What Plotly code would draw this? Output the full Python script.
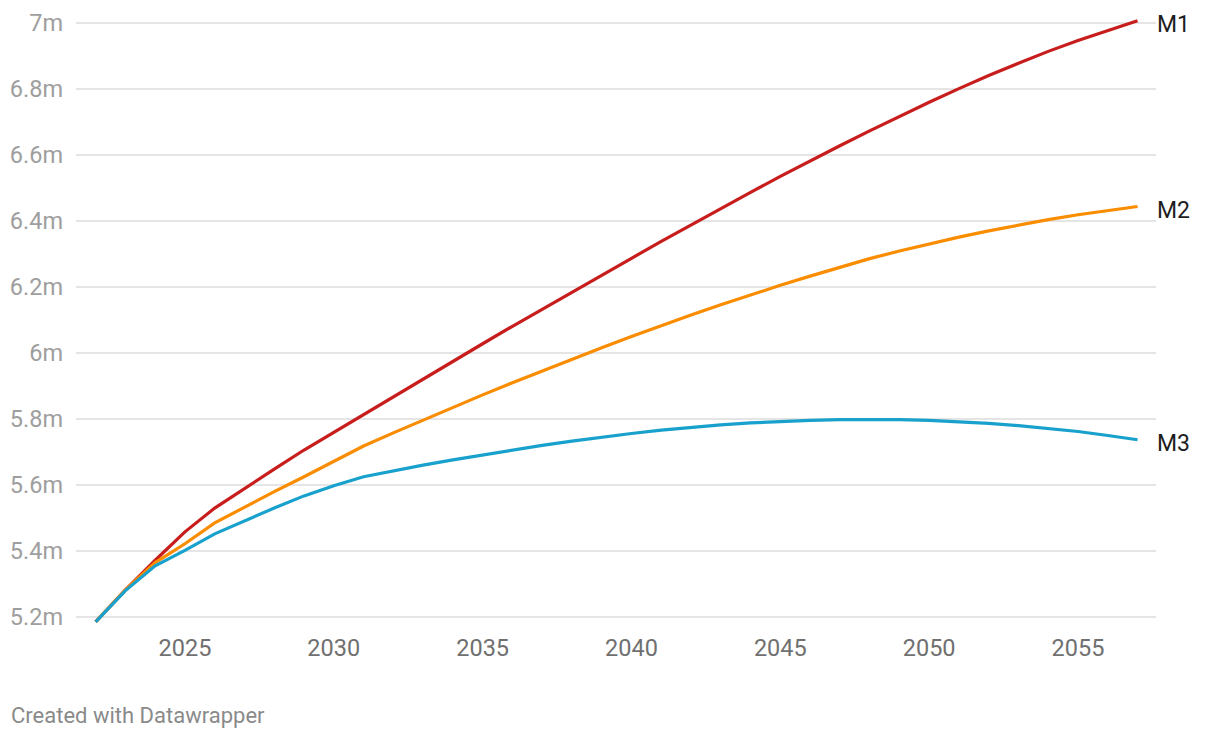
import plotly.graph_objects as go

years = list(range(2022, 2058))

m1 = [5.185, 5.282, 5.372, 5.458, 5.530, 5.590, 5.648, 5.706, 5.760, 5.814,
      5.868, 5.922, 5.975, 6.028, 6.081, 6.133, 6.185, 6.236, 6.287, 6.338,
      6.388, 6.438, 6.487, 6.535, 6.582, 6.628, 6.673, 6.717, 6.760, 6.801,
      6.841, 6.878, 6.914, 6.947, 6.978, 7.007]

m2 = [5.185, 5.282, 5.365, 5.422, 5.485, 5.533, 5.580, 5.625, 5.672, 5.718,
      5.758, 5.797, 5.835, 5.873, 5.910, 5.946, 5.981, 6.016, 6.050, 6.083,
      6.115, 6.146, 6.176, 6.205, 6.233, 6.260, 6.286, 6.309, 6.331, 6.351,
      6.370, 6.388, 6.404, 6.419, 6.432, 6.444]

m3 = [5.185, 5.280, 5.355, 5.402, 5.452, 5.492, 5.530, 5.567, 5.598, 5.625,
      5.643, 5.660, 5.676, 5.691, 5.706, 5.720, 5.733, 5.745, 5.756, 5.766,
      5.775, 5.782, 5.788, 5.793, 5.796, 5.798, 5.799, 5.798, 5.796, 5.792,
      5.787, 5.780, 5.772, 5.762, 5.750, 5.737]

series_names = ["M1", "M2", "M3"]
series_values = [m1, m2, m3]
series_colors = ["#c71e1d", "#fa8c00", "#18a1cd"]

y_tickvals = [5.2, 5.4, 5.6, 5.8, 6.0, 6.2, 6.4, 6.6, 6.8, 7.0]
y_ticktext = ["5.2m", "5.4m", "5.6m", "5.8m", "6m", "6.2m", "6.4m", "6.6m", "6.8m", "7m"]
x_tickvals = [2025, 2030, 2035, 2040, 2045, 2050, 2055]

fig = go.Figure()
for name, vals, col in zip(series_names, series_values, series_colors):
    fig.add_trace(go.Scatter(x=years, y=vals, mode="lines", name=name,
                             line=dict(color=col, width=3.2), hoverinfo="skip"))
    fig.add_annotation(x=years[-1], y=vals[-1], xref="x", yref="y", text=name,
                       showarrow=False, xanchor="left", yanchor="middle",
                       xshift=17, yshift=-4,
                       font=dict(family="Roboto", size=23, color="#1d1d1d"))

fig.add_annotation(x=0, y=0, xref="paper", yref="paper", text="Created with Datawrapper",
                   showarrow=False, xanchor="left", yanchor="middle",
                   xshift=-67, yshift=-82,
                   font=dict(family="Roboto", size=22, color="#8a8a8a"))

fig.update_layout(
    width=1220, height=740,
    margin=dict(l=68, r=72, t=7, b=115, autoexpand=False),
    paper_bgcolor="white", plot_bgcolor="white",
    showlegend=False,
    font=dict(family="Roboto"),
    xaxis=dict(range=[2021.34, 2057.62], tickvals=x_tickvals, showgrid=False,
               zeroline=False, showline=False, ticks="", automargin=False,
               ticklabelstandoff=-2,
               tickfont=dict(family="Roboto", size=23.5, color="#707070")),
    yaxis=dict(range=[5.1515, 7.0242], tickvals=y_tickvals, ticktext=y_ticktext,
               showgrid=True, gridcolor="#e5e5e5", gridwidth=2, automargin=False,
               zeroline=False, showline=False, ticks="", ticklabelstandoff=12,
               tickfont=dict(family="Roboto", size=23.5, color="#9e9e9e")),
)

fig.write_html("out.html")
